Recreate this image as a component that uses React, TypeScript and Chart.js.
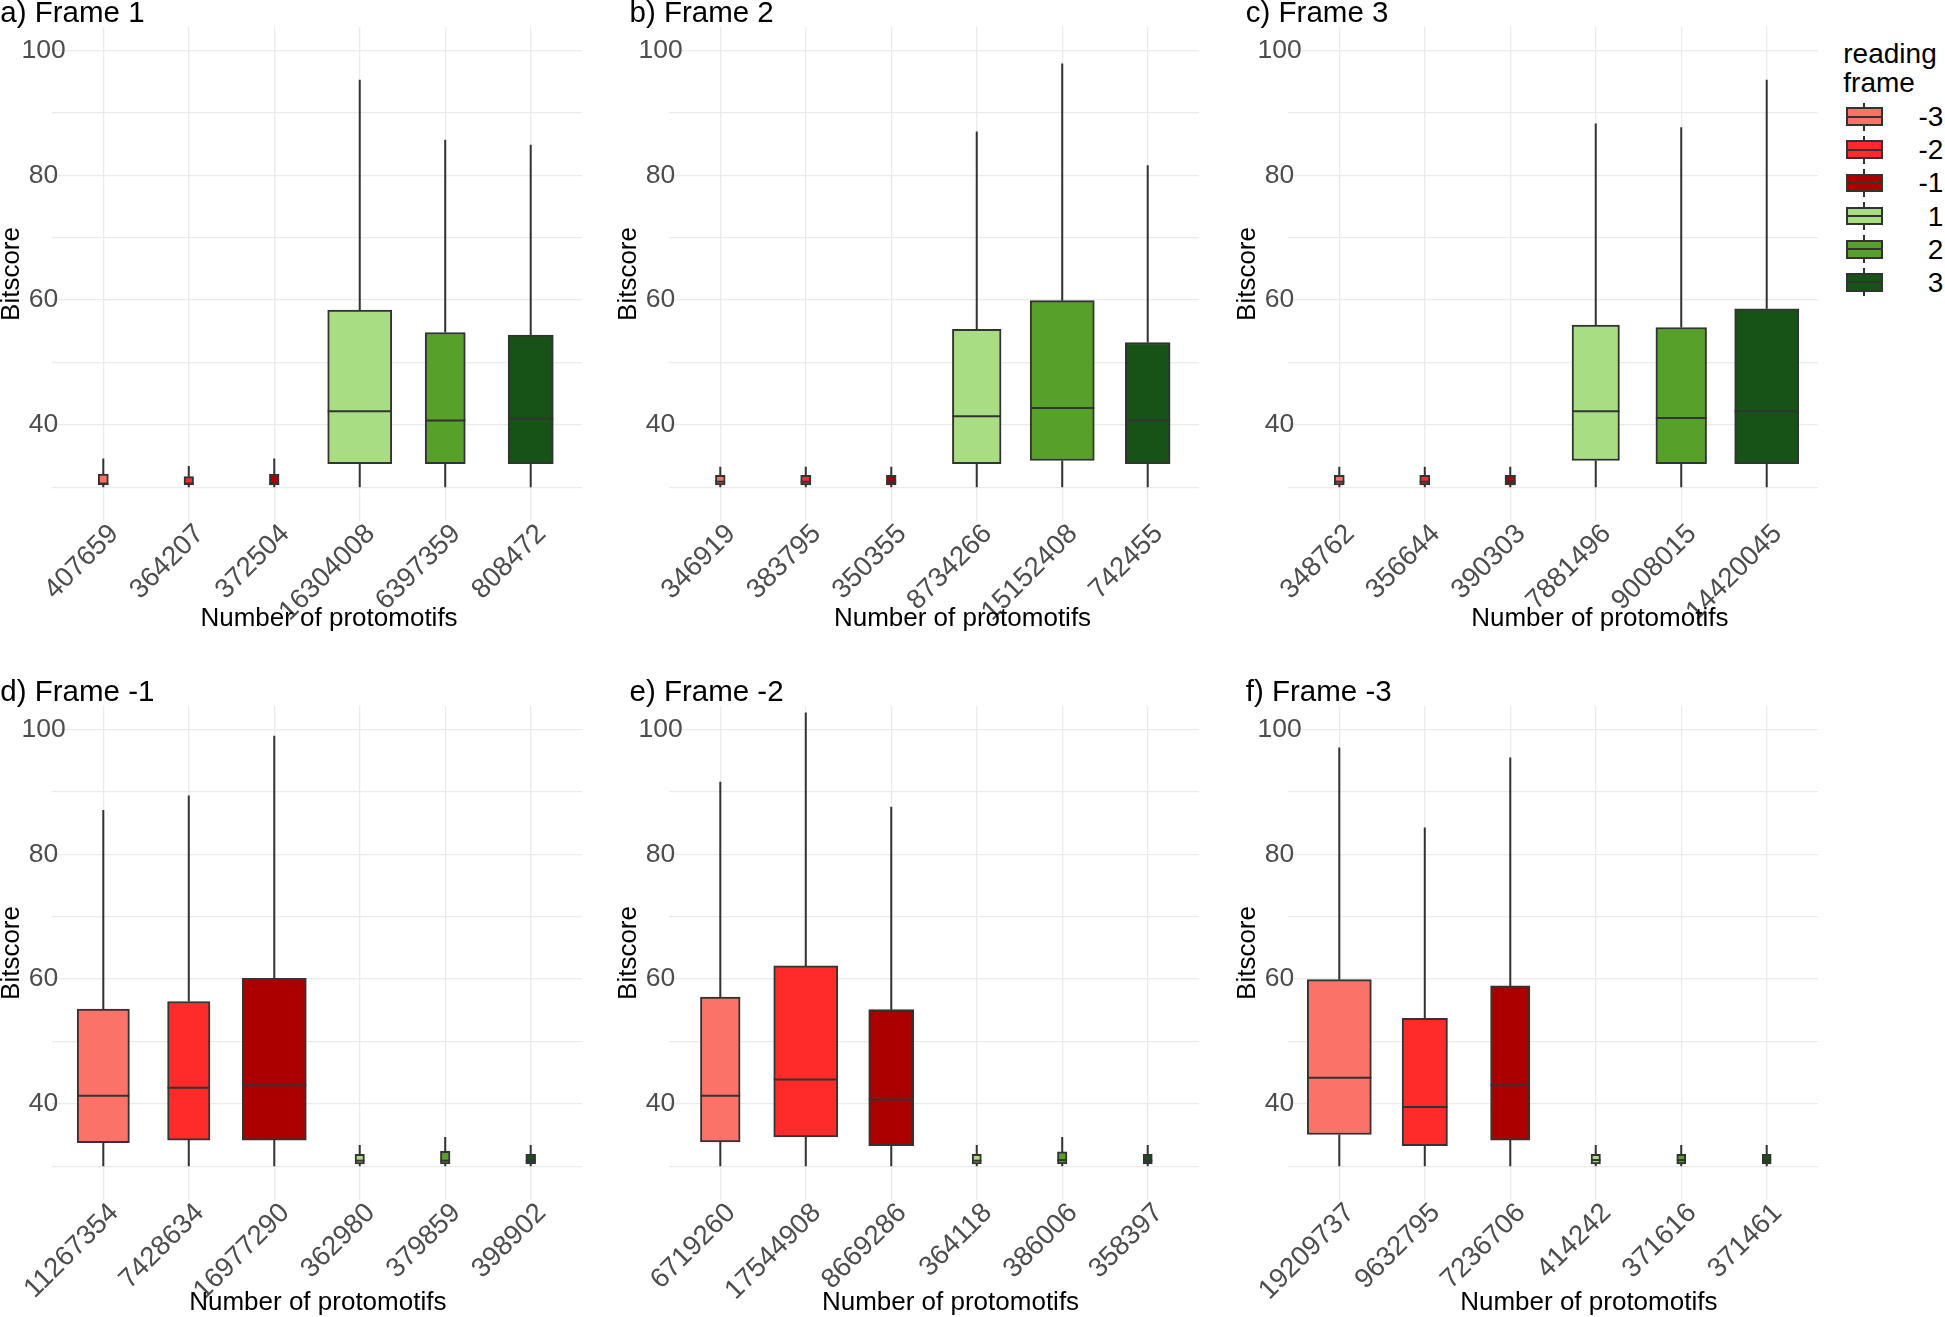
import React, { useEffect, useRef } from 'react';
import { Chart, registerables } from 'chart.js';

Chart.register(...registerables);

const FONT = '"Liberation Sans", Arial, Helvetica, sans-serif';
Chart.defaults.font.family = FONT;

// ---------------- data ----------------
const frameNames = ['-3', '-2', '-1', '1', '2', '3'];
const frameColors = ['#FA7268', '#FF2B2B', '#AA0000', '#A9DD84', '#57A12B', '#175217'];
const legendTitle = ['reading', 'frame'];
const xAxisTitle = 'Number of protomotifs';
const yAxisTitle = 'Bitscore';
const yGridValues = [30, 40, 50, 60, 70, 80, 90, 100];
const yLabelValues = [40, 60, 80, 100];
const yMin = 24.6;
const yMax = 103.75;

// a) Frame 1
const titleA = 'a) Frame 1';
const labelsA = ['407659', '364207', '372504', '16304008', '6397359', '808472'];
const countsA = [407659, 364207, 372504, 16304008, 6397359, 8100000];
const loA = [30, 30, 30, 30, 30, 30];
const q1A = [30.4, 30.4, 30.4, 33.8, 33.8, 33.8];
const medA = [30.6, 30.6, 30.6, 42.2, 40.7, 41.0];
const q3A = [32.1, 31.7, 32.1, 58.4, 54.8, 54.4];
const hiA = [34.6, 33.4, 34.6, 95.3, 85.7, 84.9];

// b) Frame 2
const titleB = 'b) Frame 2';
const labelsB = ['346919', '383795', '350355', '8734266', '15152408', '742455'];
const countsB = [346919, 383795, 350355, 8734266, 15152408, 7400000];
const loB = [30, 30, 30, 30, 30, 30];
const q1B = [30.4, 30.4, 30.4, 33.8, 34.3, 33.8];
const medB = [30.9, 30.9, 30.9, 41.4, 42.7, 40.7];
const q3B = [31.9, 31.9, 31.9, 55.3, 59.9, 53.2];
const hiB = [33.3, 33.3, 33.3, 87.0, 97.9, 81.6];

// c) Frame 3
const titleC = 'c) Frame 3';
const labelsC = ['348762', '356644', '390303', '7881496', '9008015', '14420045'];
const countsC = [348762, 356644, 390303, 7881496, 9008015, 14420045];
const loC = [30, 30, 30, 30, 30, 30];
const q1C = [30.4, 30.4, 30.4, 34.3, 33.8, 33.8];
const medC = [30.9, 30.9, 30.9, 42.2, 41.1, 42.2];
const q3C = [31.9, 31.9, 31.9, 56.0, 55.6, 58.6];
const hiC = [33.3, 33.3, 33.3, 88.3, 87.7, 95.3];

// d) Frame -1
const titleD = 'd) Frame -1';
const labelsD = ['11267354', '7428634', '16977290', '362980', '379859', '398902'];
const countsD = [11267354, 7428634, 16977290, 362980, 379859, 398902];
const loD = [30, 30, 30, 30, 30, 30];
const q1D = [33.8, 34.2, 34.2, 30.4, 30.4, 30.4];
const medD = [41.3, 42.6, 43.0, 30.9, 30.9, 30.9];
const q3D = [55.2, 56.4, 60.1, 31.9, 32.4, 31.9];
const hiD = [87.1, 89.4, 99.0, 33.4, 34.7, 33.4];

// e) Frame -2
const titleE = 'e) Frame -2';
const labelsE = ['6719260', '17544908', '8669286', '364118', '386006', '358397'];
const countsE = [6719260, 17544908, 8669286, 364118, 386006, 358397];
const loE = [30, 30, 30, 30, 30, 30];
const q1E = [33.9, 34.7, 33.3, 30.4, 30.4, 30.4];
const medE = [41.3, 43.9, 40.7, 30.9, 31.0, 30.9];
const q3E = [57.1, 62.1, 55.1, 31.9, 32.3, 31.9];
const hiE = [91.6, 102.7, 87.6, 33.4, 34.7, 33.4];

// f) Frame -3
const titleF = 'f) Frame -3';
const labelsF = ['19209737', '9632795', '7236706', '414242', '371616', '371461'];
const countsF = [19209737, 9632795, 7236706, 414242, 371616, 371461];
const loF = [30, 30, 30, 30, 30, 30];
const q1F = [35.1, 33.3, 34.2, 30.4, 30.4, 30.4];
const medF = [44.2, 39.5, 43.0, 31.0, 31.0, 31.0];
const q3F = [59.9, 53.7, 58.9, 31.9, 31.9, 31.9];
const hiF = [97.1, 84.3, 95.5, 33.4, 33.4, 33.4];

// ---------------- layout (styles, not data) ----------------
const PLOT_W = 530;
const PLOT_H = 494;
const Y_AXIS_W = 53;
const X_AXIS_H = 125;
const PAD_TOP = 30;
const PAD_RIGHT = 10;
const CANVAS_W = Y_AXIS_W + PLOT_W + PAD_RIGHT;
const CANVAS_H = PAD_TOP + PLOT_H + X_AXIS_H;
const X_MIN = -0.6;
const X_MAX = 5.6;
const UNIT_PX = PLOT_W / (X_MAX - X_MIN);
const BOX_MAX_WIDTH = 0.75; // in category units (ggplot default, varwidth)
const INK = '#333333';
const GRID = '#EBEBEB';
const TICK_COLOR = '#4D4D4D';
const Y_TICK_SIZE = 26.5;
const X_TICK_SIZE = 27.5;

type PanelDef = {
  title: string;
  labels: string[];
  counts: number[];
  lo: number[];
  q1: number[];
  med: number[];
  q3: number[];
  hi: number[];
  plotLeft: number;
  plotTop: number;
  titleDx: number;
  xTitleDx: number;
  xTitleDy: number;
};

const panels: PanelDef[] = [
  { title: titleA, labels: labelsA, counts: countsA, lo: loA, q1: q1A, med: medA, q3: q3A, hi: hiA,
    plotLeft: 51.7, plotTop: 27.3, titleDx: -51.7, xTitleDx: 277, xTitleDy: 105 },
  { title: titleB, labels: labelsB, counts: countsB, lo: loB, q1: q1B, med: medB, q3: q3B, hi: hiB,
    plotLeft: 668.5, plotTop: 27.3, titleDx: -39.5, xTitleDx: 293.5, xTitleDy: 105 },
  { title: titleC, labels: labelsC, counts: countsC, lo: loC, q1: q1C, med: medC, q3: q3C, hi: hiC,
    plotLeft: 1288.2, plotTop: 27.3, titleDx: -42.2, xTitleDx: 311.8, xTitleDy: 105 },
  { title: titleD, labels: labelsD, counts: countsD, lo: loD, q1: q1D, med: medD, q3: q3D, hi: hiD,
    plotLeft: 51.7, plotTop: 705.8, titleDx: -51.7, xTitleDx: 265.8, xTitleDy: 110 },
  { title: titleE, labels: labelsE, counts: countsE, lo: loE, q1: q1E, med: medE, q3: q3E, hi: hiE,
    plotLeft: 668.5, plotTop: 705.8, titleDx: -39.5, xTitleDx: 281.5, xTitleDy: 110 },
  { title: titleF, labels: labelsF, counts: countsF, lo: loF, q1: q1F, med: medF, q3: q3F, hi: hiF,
    plotLeft: 1288.2, plotTop: 705.8, titleDx: -42.2, xTitleDx: 300.8, xTitleDy: 110 },
];

const boxPlugin = {
  id: 'boxWhiskers',
  beforeDatasetsDraw(chart: any) {
    const { ctx } = chart;
    const ys = chart.scales.y;
    ctx.save();
    ctx.strokeStyle = INK;
    ctx.lineWidth = 2;
    chart.data.datasets.forEach((ds: any, i: number) => {
      const el = chart.getDatasetMeta(i).data[0];
      if (!el) return;
      const [q1, q3] = ds.data[0].y;
      ctx.beginPath();
      ctx.moveTo(el.x, ys.getPixelForValue(q3));
      ctx.lineTo(el.x, ys.getPixelForValue(ds.whiskerHi));
      ctx.moveTo(el.x, ys.getPixelForValue(q1));
      ctx.lineTo(el.x, ys.getPixelForValue(ds.whiskerLo));
      ctx.stroke();
    });
    ctx.restore();
  },
  afterDatasetsDraw(chart: any) {
    const { ctx } = chart;
    const ys = chart.scales.y;
    ctx.save();
    ctx.strokeStyle = INK;
    ctx.lineWidth = 2;
    chart.data.datasets.forEach((ds: any, i: number) => {
      const el = chart.getDatasetMeta(i).data[0];
      if (!el) return;
      const y = ys.getPixelForValue(ds.median);
      ctx.beginPath();
      ctx.moveTo(el.x - el.width / 2, y);
      ctx.lineTo(el.x + el.width / 2, y);
      ctx.stroke();
    });
    ctx.restore();
  },
};

function Panel({ p }: { p: PanelDef }) {
  const ref = useRef<HTMLCanvasElement | null>(null);
  useEffect(() => {
    if (!ref.current) return;
    const maxN = Math.max(...p.counts);
    const textPlugin = {
      id: 'panelText',
      afterDraw(chart: any) {
        const { ctx, chartArea } = chart;
        ctx.save();
        ctx.fillStyle = '#000000';
        ctx.textBaseline = 'alphabetic';
        ctx.font = `29.5px ${FONT}`;
        ctx.textAlign = 'left';
        ctx.fillText(p.title, chartArea.left + p.titleDx, chartArea.top - 5.5);
        ctx.font = `26px ${FONT}`;
        ctx.textAlign = 'center';
        ctx.fillText(xAxisTitle, chartArea.left + p.xTitleDx, chartArea.bottom + p.xTitleDy);
        ctx.restore();
      },
    };
    const chart = new Chart(ref.current, {
      type: 'bar',
      data: {
        datasets: p.labels.map((_, i) => ({
          type: 'bar',
          data: [{ x: i, y: [p.q1[i], p.q3[i]] }],
          backgroundColor: frameColors[i],
          borderColor: INK,
          borderWidth: 2,
          borderSkipped: false,
          grouped: false,
          barPercentage: 1,
          categoryPercentage: 1,
          maxBarThickness: BOX_MAX_WIDTH * UNIT_PX * Math.sqrt(p.counts[i] / maxN),
          whiskerLo: p.lo[i],
          whiskerHi: p.hi[i],
          median: p.med[i],
        })) as any,
      },
      options: {
        animation: false,
        responsive: false,
        maintainAspectRatio: false,
        layout: { padding: { top: PAD_TOP, right: PAD_RIGHT, left: 0, bottom: 0 } },
        plugins: { legend: { display: false }, tooltip: { enabled: false }, title: { display: false } },
        scales: {
          x: {
            type: 'linear',
            offset: false,
            min: X_MIN,
            max: X_MAX,
            afterBuildTicks: (s: any) => { s.ticks = p.labels.map((_, i) => ({ value: i })); },
            afterFit: (s: any) => { s.height = X_AXIS_H; },
            ticks: {
              autoSkip: false,
              maxRotation: 45,
              minRotation: 45,
              padding: -3,
              labelOffset: 11,
              color: TICK_COLOR,
              font: { size: X_TICK_SIZE, family: FONT },
              callback: (v: any) => p.labels[Math.round(Number(v))] ?? '',
            },
            grid: { color: GRID, lineWidth: 1.3, drawTicks: false, offset: false },
            border: { display: false },
          },
          y: {
            type: 'linear',
            min: yMin,
            max: yMax,
            afterBuildTicks: (s: any) => { s.ticks = yGridValues.map((v) => ({ value: v })); },
            afterFit: (s: any) => { s.width = Y_AXIS_W; },
            ticks: {
              autoSkip: false,
              mirror: true,
              crossAlign: 'center',
              padding: -30.6,
              color: TICK_COLOR,
              font: { size: Y_TICK_SIZE, family: FONT },
              callback: (v: any) => (yLabelValues.includes(Number(v)) ? String(v) : ''),
            },
            grid: { color: GRID, lineWidth: 1.3, drawTicks: false },
            border: { display: false },
            title: {
              display: true,
              text: yAxisTitle,
              color: '#000000',
              padding: 0,
              font: { size: 26, family: FONT, lineHeight: 1 },
            },
          },
        },
      } as any,
      plugins: [boxPlugin, textPlugin],
    });
    return () => chart.destroy();
  }, [p]);
  return (
    <canvas
      ref={ref}
      width={CANVAS_W}
      height={CANVAS_H}
      style={{
        position: 'absolute',
        left: p.plotLeft - Y_AXIS_W,
        top: p.plotTop - PAD_TOP,
        width: CANVAS_W,
        height: CANVAS_H,
      }}
    />
  );
}

const LEG_LEFT = 1845.7;
const LEG_ROW0 = 116.7;
const LEG_STEP = 33.15;
const KEY_W = 37.6;
const KEY_H = 28;
const KEY_BOX_H = 18.7;

function Legend() {
  return (
    <>
      <div
        style={{
          position: 'absolute', left: 1843.3, top: 38.9, fontSize: 28, lineHeight: '29.4px',
          fontFamily: FONT, color: '#000', whiteSpace: 'nowrap',
        }}
      >
        {legendTitle[0]}
        <br />
        {legendTitle[1]}
      </div>
      {frameNames.map((name, k) => {
        const cy = LEG_ROW0 + k * LEG_STEP;
        return (
          <React.Fragment key={name}>
            <div style={{ position: 'absolute', left: LEG_LEFT, top: cy - KEY_H / 2, width: KEY_W, height: KEY_H }}>
              <div style={{ position: 'absolute', left: KEY_W / 2 - 1, top: 0, width: 2, height: KEY_H, background: INK }} />
              <div
                style={{
                  position: 'absolute', left: 0, top: (KEY_H - KEY_BOX_H) / 2, width: KEY_W, height: KEY_BOX_H,
                  boxSizing: 'border-box', border: `2px solid ${INK}`, background: frameColors[k],
                }}
              />
              <div style={{ position: 'absolute', left: 0, top: KEY_H / 2 - 1, width: KEY_W, height: 2, background: INK }} />
            </div>
            <div
              style={{
                position: 'absolute', right: 1.7, top: cy - LEG_STEP / 2, height: LEG_STEP, lineHeight: `${LEG_STEP}px`,
                fontSize: 28, fontFamily: FONT, color: '#000', textAlign: 'right', whiteSpace: 'nowrap',
              }}
            >
              {name}
            </div>
          </React.Fragment>
        );
      })}
    </>
  );
}

export default function App() {
  return (
    <div
      style={{
        position: 'absolute', left: 0, top: 0, width: 1945, height: 1317, overflow: 'hidden',
        background: '#ffffff', fontFamily: FONT,
      }}
    >
      {panels.map((p, i) => (
        <Panel key={i} p={p} />
      ))}
      <Legend />
    </div>
  );
}
